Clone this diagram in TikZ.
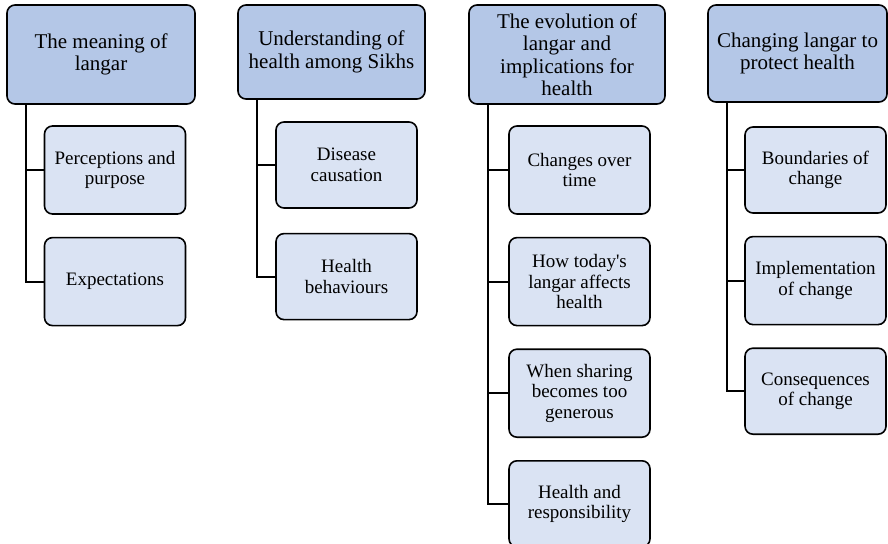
\documentclass[tikz,border=0pt]{standalone}
\usepackage{fontspec}
\setmainfont{Liberation Serif}
\usetikzlibrary{positioning}
\definecolor{headblue}{HTML}{B4C7E7}
\definecolor{subblue}{HTML}{DAE3F3}

\begin{document}
\begin{tikzpicture}[x=1pt, y=-1pt, node distance=22pt,
  theme/.style={draw, line width=1.6pt, rounded corners=8pt, fill=headblue, align=center,
    inner sep=0pt, font=\fontsize{21}{22.5}\selectfont},
  subtheme/.style={draw, line width=1.6pt, rounded corners=8pt, fill=subblue, align=center,
    inner sep=0pt, minimum width=141pt, minimum height=88pt, font=\fontsize{19}{20.5}\selectfont},
  branch/.style={line width=2pt}]
		\useasboundingbox (0,0) rectangle (888,543);
		% main themes
		\node[theme, minimum width=188pt, minimum height=99pt] (meaning) at (101,54.5)
		{The meaning of\\langar};
		\node[theme, minimum width=187pt, minimum height=94pt] (understand) at (331.5,52)
		{Understanding of\\health among Sikhs};
		\node[theme, minimum width=196pt, minimum height=99pt] (evolution) at (567,54.5)
		{The evolution of\\langar and\\implications for\\health};
		\node[theme, minimum width=179pt, minimum height=97pt] (changing) at (797.5,53.5)
		{Changing langar to\\protect health};
		% sub-themes
		\node[subtheme] (perceptions) at (115,170) {Perceptions and\\purpose};
		\node[subtheme, below=of perceptions] (expectations) {Expectations};
		\node[subtheme, minimum height=86pt] (disease) at (346.5,165) {Disease\\causation};
		\node[subtheme, minimum height=86pt, below=24pt of disease] (behaviours) {Health\\behaviours};
		\node[subtheme] (overtime) at (579.5,170) {Changes over\\time};
		\node[subtheme, below=of overtime] (today) {How today\textquotesingle s\\langar affects\\health};
		\node[subtheme, below=of today] (sharing) {When sharing\\becomes too\\generous};
		\node[subtheme, minimum height=86pt, below=of sharing] (responsibility) {Health and\\responsibility};
		\node[subtheme, minimum height=86pt] (boundaries) at (815.5,170) {Boundaries of\\change};
		\node[subtheme, below=of boundaries] (implementation) {Implementation\\of change};
		\node[subtheme, minimum height=86pt, below=of implementation] (consequences) {Consequences\\of change};
		% branches
		\foreach \head/\sub in {meaning/perceptions, meaning/expectations,
		  understand/disease, understand/behaviours,
		  evolution/overtime, evolution/today, evolution/sharing, evolution/responsibility,
		  changing/boundaries, changing/implementation, changing/consequences}
		  \draw[branch] ([xshift=20pt]\head.south west) |- (\sub.west);
	\end{tikzpicture}
\end{document}
